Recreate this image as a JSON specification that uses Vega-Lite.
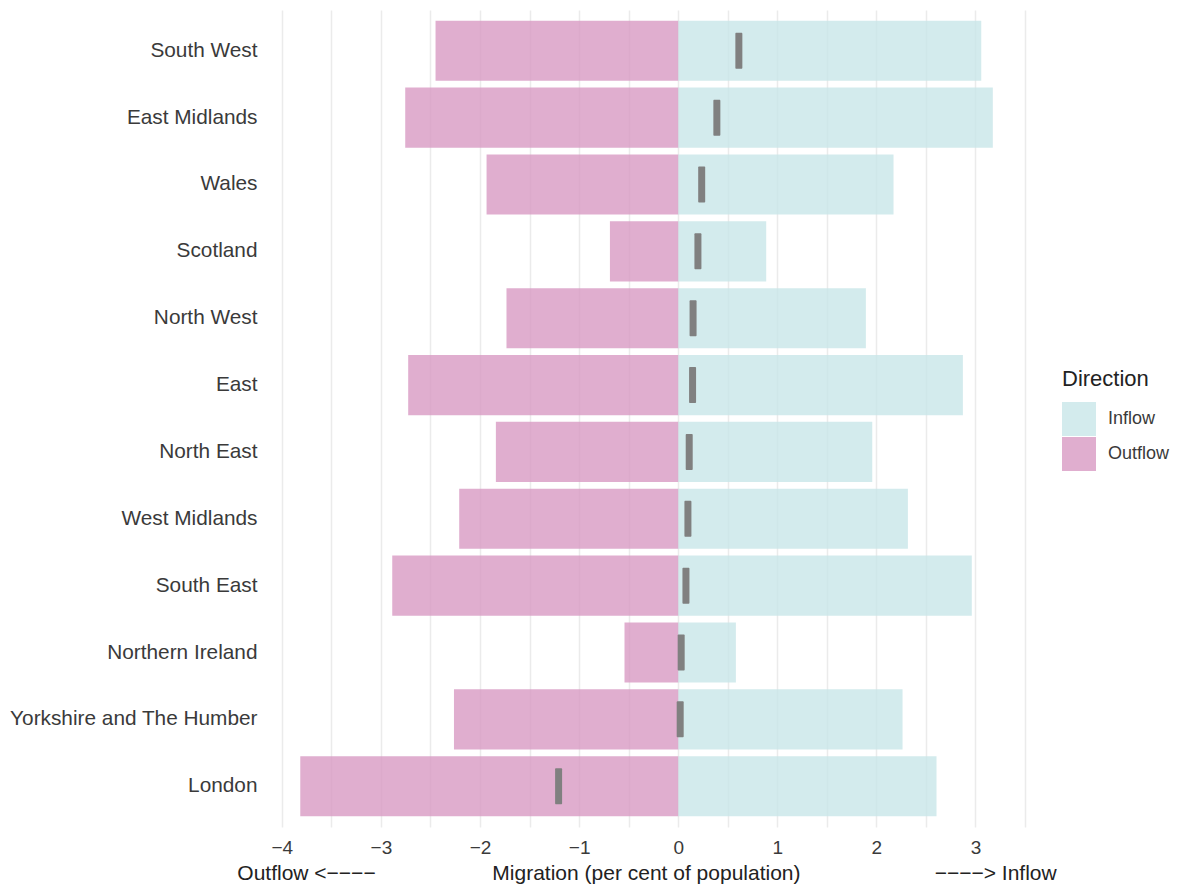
{
  "$schema": "https://vega.github.io/schema/vega-lite/v6.json",
  "autosize": {"type": "none"},
  "padding": {"left": 265, "top": 10, "right": 150, "bottom": 59},
  "width": 763,
  "height": 817,
  "background": "white",
  "config": {
    "view": {"stroke": null},
    "font": "Liberation Sans",
    "axis": {"labelFont": "Liberation Sans", "titleFont": "Liberation Sans"},
    "legend": {"labelFont": "Liberation Sans", "titleFont": "Liberation Sans"}
  },
  "datasets": {
    "flows": [
      {"region": "South West", "direction": "Inflow", "value": 3.058},
      {"region": "South West", "direction": "Outflow", "value": -2.449},
      {"region": "East Midlands", "direction": "Inflow", "value": 3.175},
      {"region": "East Midlands", "direction": "Outflow", "value": -2.755},
      {"region": "Wales", "direction": "Inflow", "value": 2.173},
      {"region": "Wales", "direction": "Outflow", "value": -1.934},
      {"region": "Scotland", "direction": "Inflow", "value": 0.888},
      {"region": "Scotland", "direction": "Outflow", "value": -0.689},
      {"region": "North West", "direction": "Inflow", "value": 1.894},
      {"region": "North West", "direction": "Outflow", "value": -1.733},
      {"region": "East", "direction": "Inflow", "value": 2.873},
      {"region": "East", "direction": "Outflow", "value": -2.725},
      {"region": "North East", "direction": "Inflow", "value": 1.958},
      {"region": "North East", "direction": "Outflow", "value": -1.84},
      {"region": "West Midlands", "direction": "Inflow", "value": 2.318},
      {"region": "West Midlands", "direction": "Outflow", "value": -2.21},
      {"region": "South East", "direction": "Inflow", "value": 2.963},
      {"region": "South East", "direction": "Outflow", "value": -2.886},
      {"region": "Northern Ireland", "direction": "Inflow", "value": 0.582},
      {"region": "Northern Ireland", "direction": "Outflow", "value": -0.542},
      {"region": "Yorkshire and The Humber", "direction": "Inflow", "value": 2.264},
      {"region": "Yorkshire and The Humber", "direction": "Outflow", "value": -2.263},
      {"region": "London", "direction": "Inflow", "value": 2.607},
      {"region": "London", "direction": "Outflow", "value": -3.814}
    ],
    "net": [
      {"region": "South West", "net": 0.612},
      {"region": "East Midlands", "net": 0.39},
      {"region": "Wales", "net": 0.237},
      {"region": "Scotland", "net": 0.199},
      {"region": "North West", "net": 0.15},
      {"region": "East", "net": 0.145},
      {"region": "North East", "net": 0.111},
      {"region": "West Midlands", "net": 0.098},
      {"region": "South East", "net": 0.078},
      {"region": "Northern Ireland", "net": 0.03},
      {"region": "Yorkshire and The Humber", "net": 0.02},
      {"region": "London", "net": -1.207}
    ]
  },
  "layer": [
    {
      "data": {"name": "flows"},
      "mark": {"type": "bar", "opacity": 0.8},
      "encoding": {
        "y": {
          "field": "region",
          "type": "nominal",
          "scale": {
            "domain": ["South West", "East Midlands", "Wales", "Scotland", "North West", "East", "North East", "West Midlands", "South East", "Northern Ireland", "Yorkshire and The Humber", "London"],
            "paddingInner": 0.1,
            "paddingOuter": 0.16
          },
          "axis": {
            "title": null,
            "ticks": false,
            "domain": false,
            "grid": false,
            "labelFontSize": 20.8,
            "labelColor": "#3a3a3a",
            "labelPadding": 8,
            "labelLimit": 400
          }
        },
        "x": {
          "field": "value",
          "type": "quantitative",
          "stack": null,
          "scale": {"domain": [-4.17, 3.53], "nice": false, "zero": false},
          "axis": {
            "title": "Outflow\u00a0<−−−−\u00a0\u00a0\u00a0\u00a0\u00a0\u00a0\u00a0\u00a0\u00a0\u00a0\u00a0\u00a0\u00a0\u00a0\u00a0\u00a0\u00a0\u00a0\u00a0\u00a0Migration (per cent of population)\u00a0\u00a0\u00a0\u00a0\u00a0\u00a0\u00a0\u00a0\u00a0\u00a0\u00a0\u00a0\u00a0\u00a0\u00a0\u00a0\u00a0\u00a0\u00a0\u00a0\u00a0\u00a0\u00a0−−−−>\u00a0Inflow",
            "values": [-4, -3.5, -3, -2.5, -2, -1.5, -1, -0.5, 0, 0.5, 1, 1.5, 2, 2.5, 3, 3.5],
            "labelExpr": "datum.value % 1 == 0 ? format(datum.value, 'd') : ''",
            "ticks": false,
            "domain": false,
            "grid": true,
            "gridColor": "#ebebeb",
            "gridWidth": 1.5,
            "labelFontSize": 19,
            "labelColor": "#3a3a3a",
            "labelPadding": 11,
            "labelOverlap": false,
            "titleFontSize": 21,
            "titleFontWeight": "normal",
            "titleColor": "#222222",
            "titlePadding": 5
          }
        },
        "color": {
          "field": "direction",
          "type": "nominal",
          "scale": {"domain": ["Inflow", "Outflow"], "range": ["#c8e6e8", "#d89ac3"]},
          "legend": {
            "title": "Direction",
            "orient": "none",
            "legendX": 797,
            "legendY": 359,
            "titleFontSize": 22,
            "titleFontWeight": "normal",
            "titleColor": "#222222",
            "titlePadding": 11,
            "labelFontSize": 18,
            "labelColor": "#3a3a3a",
            "labelOffset": 12,
            "symbolType": "square",
            "symbolSize": 1156,
            "symbolStrokeWidth": 0,
            "symbolOpacity": 0.8,
            "rowPadding": 1
          }
        }
      }
    },
    {
      "data": {"name": "net"},
      "mark": {"type": "tick", "orient": "vertical", "size": 36, "thickness": 7, "color": "#808080", "opacity": 1, "cornerRadius": 1},
      "encoding": {
        "y": {"field": "region", "type": "nominal"},
        "x": {"field": "net", "type": "quantitative"}
      }
    }
  ]
}
